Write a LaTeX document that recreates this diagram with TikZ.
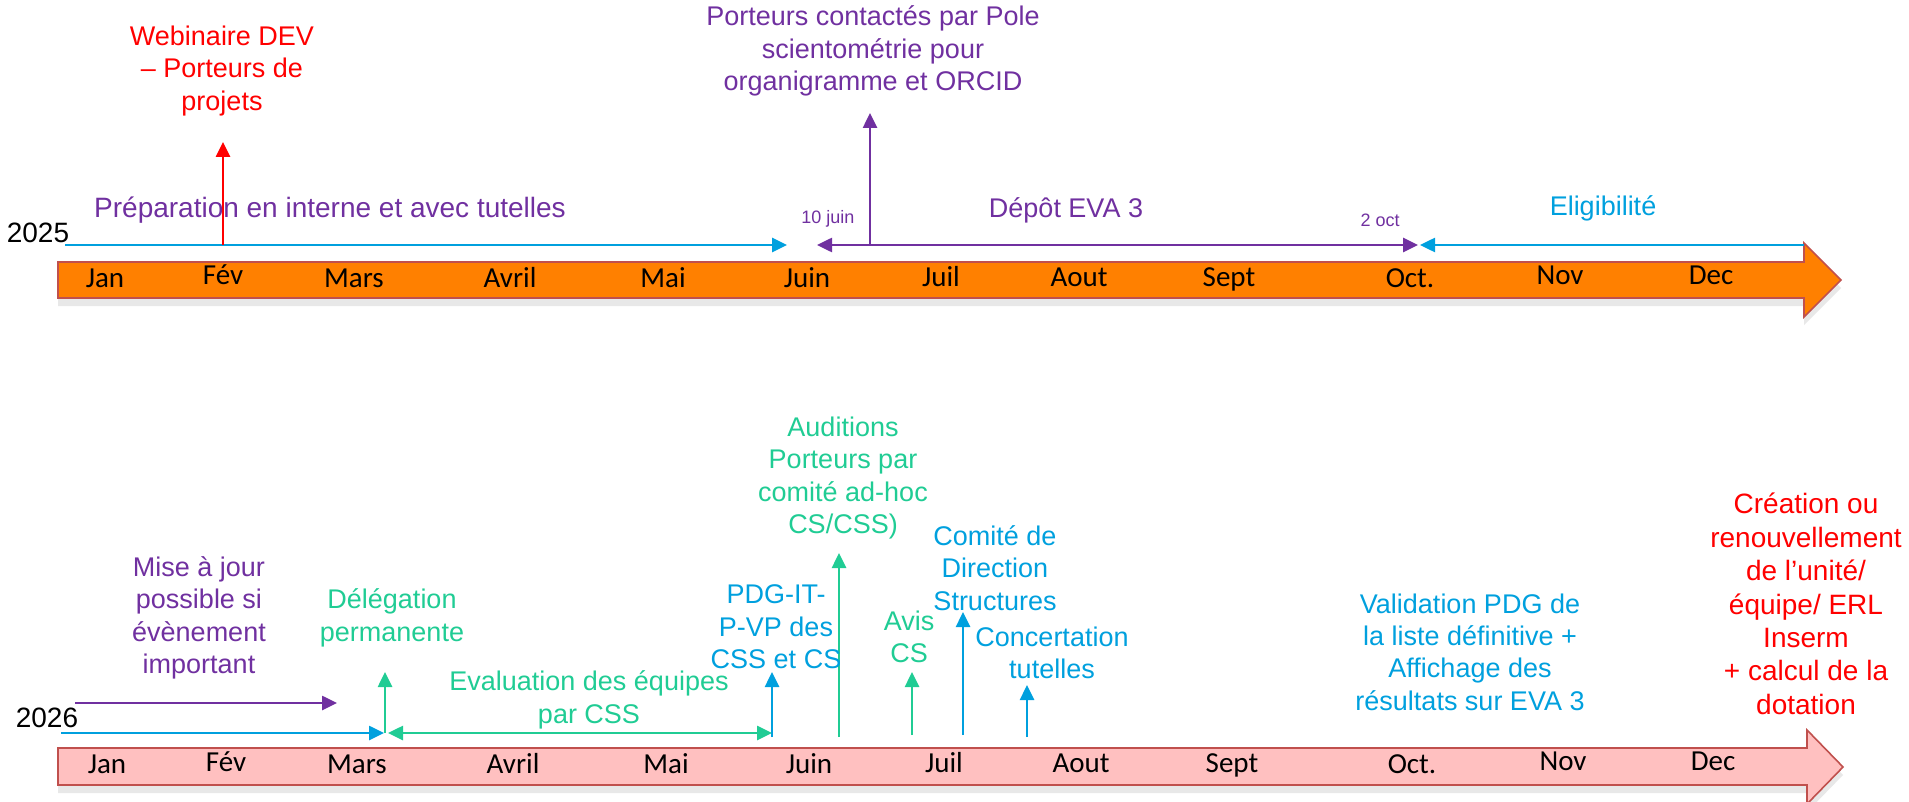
\documentclass[tikz,border=0pt]{standalone}
\usepackage{fontspec}
\setmainfont{Liberation Sans}
\newfontfamily\calfont{Carlito}
\usetikzlibrary{arrows.meta,shadows}
\definecolor{evapurple}{RGB}{112,48,160}
\definecolor{evablue}{RGB}{0,160,222}
\definecolor{evagreen}{RGB}{32,204,148}
\definecolor{evaorange}{RGB}{255,128,0}
\definecolor{evapink}{RGB}{255,192,192}
\definecolor{evaedge}{RGB}{192,80,77}
\tikzset{
  txt/.style = {align=center, inner sep=0pt,
    font=\fontsize{13.5}{16.2}\selectfont},% event labels
  big/.style = {txt, font=\fontsize{14}{16.7}\selectfont},
  small/.style = {inner sep=0pt, font=\fontsize{9}{11}\selectfont},
  month/.style = {anchor=base, inner sep=0pt,
    font=\calfont\fontsize{14.5}{17}\selectfont},
  year/.style = {inner sep=0pt, font=\fontsize{14}{17}\selectfont},
  bar/.style = {draw=evaedge, line width=0.8pt,
    drop shadow={opacity=.18, shadow xshift=0pt, shadow yshift=-4pt}},% big arrow
  lnk/.style = {line width=1.3pt}
}

\begin{document}
\begin{tikzpicture}[x=0.5pt,y=-0.5pt,>={Triangle[length=7.5pt,width=7pt]}]
\useasboundingbox (0,0) rectangle (1909,802);

% 2025
\draw[bar, fill=evaorange] (58,262) -- (1804,262) -- (1804,243) -- (1841,280)
  -- (1804,317) -- (1804,298) -- (58,298) -- cycle;
\node[month] (jan1) at (105,287) {Jan};
\node[month] (fev1) at (223,285) {Fév};
\node[month] (mar1) at (354,287) {Mars};
\node[month] (avr1) at (510,287) {Avril};
\node[month] (mai1) at (663,287) {Mai};
\node[month] (jun1) at (807,287) {Juin};
\node[month] (jul1) at (941,286) {Juil};
\node[month] (aou1) at (1079,286) {Aout};
\node[month] (sep1) at (1229,286) {Sept};
\node[month] (oct1) at (1410,287) {Oct.};
\node[month] (nov1) at (1560,284) {Nov};
\node[month] (dec1) at (1711,284) {Dec};
\node[year] (y25) at (38,233) {2025};

\coordinate (t0) at (65,245);
\coordinate (tjuin) at (787,245);
\coordinate (t10) at (817,245);
\coordinate (toct) at (1418,245);
\coordinate (toct2) at (1420,245);
\coordinate (tend) at (1804,245);
\coordinate (wb0) at (223,245);
\coordinate (wb1) at (223,142);
\coordinate (pc0) at (870,245);
\coordinate (pc1) at (870,113);

\draw[lnk, evablue, ->] (t0) -- (tjuin);
\draw[lnk, evapurple, <->] (t10) -- (toct);
\draw[lnk, evablue, ->] (tend) -- (toct2);
\draw[lnk, red, ->] (wb0) -- (wb1);
\draw[lnk, evapurple, ->] (pc0) -- (pc1);

\node[txt, red] (webi) at (222,71) {Webinaire DEV\\– Porteurs de\\projets};
\node[txt, evapurple] (pole) at (873,51) {Porteurs contactés par Pole\\scientométrie pour\\organigramme et ORCID};
\node[big, evapurple] (prep) at (330,210) {Préparation en interne et avec tutelles};
\node[txt, evapurple] (depot) at (1066,210) {Dépôt EVA 3};
\node[txt, evablue] (elig) at (1603,208) {Eligibilité};
\node[small, evapurple] (d10) at (828,219) {10 juin};
\node[small, evapurple] (d2) at (1380,220) {2 oct};

% 2026
\draw[bar, fill=evapink] (58,748) -- (1807,748) -- (1807,730) -- (1843,767)
  -- (1807,804) -- (1807,785) -- (58,785) -- cycle;
\node[month] (jan2) at (107,773) {Jan};
\node[month] (fev2) at (226,771) {Fév};
\node[month] (mar2) at (357,773) {Mars};
\node[month] (avr2) at (513,773) {Avril};
\node[month] (mai2) at (666,773) {Mai};
\node[month] (jun2) at (809,773) {Juin};
\node[month] (jul2) at (944,772) {Juil};
\node[month] (aou2) at (1081,772) {Aout};
\node[month] (sep2) at (1232,772) {Sept};
\node[month] (oct2) at (1412,773) {Oct.};
\node[month] (nov2) at (1563,770) {Nov};
\node[month] (dec2) at (1713,770) {Dec};
\node[year] (y26) at (47,718) {2026};

\coordinate (b0) at (61,733);
\coordinate (bmars) at (384,733);
\coordinate (m0) at (75,703);
\coordinate (m1) at (337,703);
\coordinate (dl0) at (385,733);
\coordinate (dl1) at (385,672);
\coordinate (ev0) at (388,733);
\coordinate (ev1) at (772,733);
\coordinate (pdg0) at (772,737);
\coordinate (pdg1) at (772,672);
\coordinate (au0) at (839,737);
\coordinate (au1) at (839,553);
\coordinate (av0) at (912,735);
\coordinate (av1) at (912,672);
\coordinate (cd0) at (963,735);
\coordinate (cd1) at (963,612);
\coordinate (ct0) at (1027,737);
\coordinate (ct1) at (1027,685);

\draw[lnk, evablue, ->] (b0) -- (bmars);
\draw[lnk, evapurple, ->] (m0) -- (m1);
\draw[lnk, evagreen, ->] (dl0) -- (dl1);
\draw[lnk, evagreen, <->] (ev0) -- (ev1);
\draw[lnk, evablue, ->] (pdg0) -- (pdg1);
\draw[lnk, evagreen, ->] (au0) -- (au1);
\draw[lnk, evagreen, ->] (av0) -- (av1);
\draw[lnk, evablue, ->] (cd0) -- (cd1);
\draw[lnk, evablue, ->] (ct0) -- (ct1);

\node[txt, evapurple] (mise) at (199,618) {Mise à jour\\possible si\\évènement\\important};
\node[txt, evagreen] (dele) at (392,618) {Délégation\\permanente};
\node[txt, evagreen] (eval) at (589,700) {Evaluation des équipes\\par CSS};
\node[txt, evablue] (pdg) at (776,627) {PDG-IT-\\P-VP des\\CSS et CS};
\node[txt, evagreen] (audi) at (843,478) {Auditions\\Porteurs par\\comité ad-hoc\\CS/CSS)};
\node[txt, evagreen] (avis) at (909,637) {Avis\\CS};
\node[txt, evablue] (comi) at (995,568) {Comité de\\Direction\\Structures};
\node[txt, evablue] (conc) at (1052,653) {Concertation\\tutelles};
\node[txt, evablue] (vali) at (1470,652) {Validation PDG de\\la liste définitive +\\Affichage des\\résultats sur EVA 3};
\node[big, red] (crea) at (1806,604) {Création ou\\renouvellement\\de l’unité/\\équipe/ ERL\\Inserm\\+ calcul de la\\dotation};
\end{tikzpicture}
\end{document}
